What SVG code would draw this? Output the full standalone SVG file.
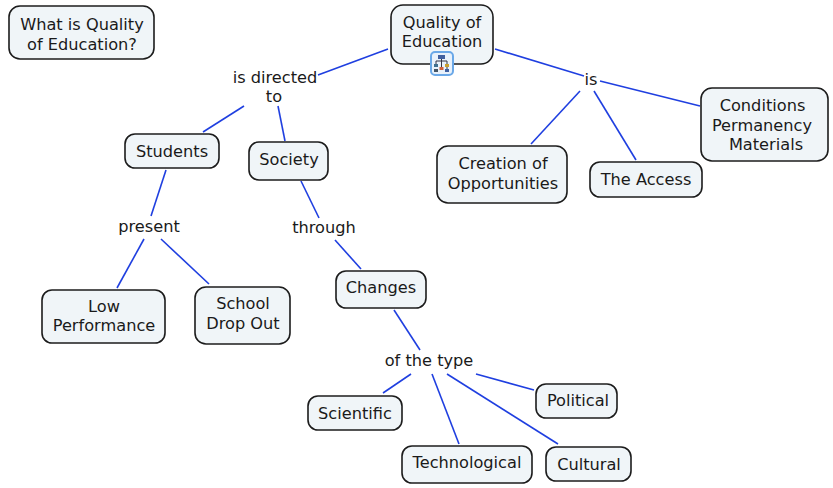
<svg xmlns="http://www.w3.org/2000/svg" width="833" height="488" viewBox="0 0 833 488">
<style>
.n{fill:#f0f5f8;stroke:#1c1c1c;stroke-width:1.6}
text{font-family:"DejaVu Sans",Verdana,sans-serif;font-size:16.2px;fill:#1a1a1a;text-anchor:middle}
.c line{stroke:#1f3fe0;stroke-width:1.6}
</style>
<rect width="833" height="488" fill="#fff"/>
<g id="connectors" class="c">
<line x1="388" y1="49" x2="318" y2="75"/>
<line x1="495" y1="49" x2="584" y2="76"/>
<line x1="600" y1="81" x2="700" y2="106"/>
<line x1="580" y1="91" x2="531" y2="144"/>
<line x1="594" y1="91" x2="636" y2="160"/>
<line x1="244" y1="106" x2="203" y2="132"/>
<line x1="278" y1="106" x2="285" y2="141"/>
<line x1="166" y1="170" x2="151" y2="216"/>
<line x1="144" y1="239" x2="117" y2="288"/>
<line x1="161" y1="239" x2="209" y2="284"/>
<line x1="301" y1="181" x2="319" y2="218"/>
<line x1="335" y1="240" x2="361" y2="269"/>
<line x1="394" y1="310" x2="420" y2="350"/>
<line x1="411" y1="374" x2="383" y2="393"/>
<line x1="432" y1="374" x2="459" y2="444"/>
<line x1="447" y1="374" x2="558" y2="444"/>
<line x1="476" y1="374" x2="534" y2="390"/>
</g>
<g id="title"><rect class="n" x="9" y="6" width="145" height="53" rx="11"/><text x="82" y="30">What is Quality</text><text x="82" y="50">of Education?</text></g>
<g id="quality"><rect class="n" x="391" y="5" width="102" height="59" rx="12"/><text x="442" y="28">Quality of</text><text x="442" y="47">Education</text>
<rect x="431" y="52" width="22" height="23" rx="4" fill="#e8f1fb" stroke="#6aa8e8" stroke-width="2"/>
<path d="M441.500 58v3M436 65v-4h11v4M441.500 61v6M447 67v3" fill="none" stroke="#334" stroke-width="1"/>
<rect x="438" y="55" width="7" height="4" fill="#3f5f9f"/><rect x="434" y="64" width="4" height="3" fill="#3f6f8f"/><rect x="445" y="64" width="4" height="3" fill="#c9a030"/><rect x="439.500" y="67" width="4" height="3" fill="#d0603a"/><rect x="445" y="69" width="4" height="3" fill="#3f5f9f"/><rect x="434" y="69" width="4" height="3" fill="#456"/></g>
<g id="students"><rect class="n" x="125" y="134" width="94" height="34" rx="10"/><text x="172" y="157">Students</text></g>
<g id="society"><rect class="n" x="249" y="142" width="79" height="38" rx="10"/><text x="289" y="165">Society</text></g>
<g id="opportunities"><rect class="n" x="437" y="146" width="130" height="57" rx="11"/><text x="503" y="169">Creation of</text><text x="503" y="189">Opportunities</text></g>
<g id="access"><rect class="n" x="590" y="162" width="112" height="35" rx="10"/><text x="646" y="185">The Access</text></g>
<g id="conditions"><rect class="n" x="701" y="88" width="127" height="73" rx="11"/><text x="762.500" y="111">Conditions</text><text x="762" y="131">Permanency</text><text x="766" y="150">Materials</text></g>
<g id="low"><rect class="n" x="42" y="290" width="123" height="53" rx="10"/><text x="104" y="312">Low</text><text x="104" y="331">Performance</text></g>
<g id="dropout"><rect class="n" x="195" y="287" width="95" height="57" rx="11"/><text x="243" y="309">School</text><text x="243" y="329">Drop Out</text></g>
<g id="changes"><rect class="n" x="336" y="271" width="90" height="37" rx="10"/><text x="381" y="293">Changes</text></g>
<g id="scientific"><rect class="n" x="308" y="396" width="94" height="34" rx="10"/><text x="355" y="419">Scientific</text></g>
<g id="technological"><rect class="n" x="402" y="446" width="130" height="37" rx="10"/><text x="467" y="468">Technological</text></g>
<g id="cultural"><rect class="n" x="546" y="447" width="85" height="34" rx="10"/><text x="589" y="470">Cultural</text></g>
<g id="political"><rect class="n" x="536" y="384" width="81" height="34" rx="10"/><text x="578" y="406">Political</text></g>
<g id="labels"><text x="275" y="83">is directed</text><text x="274" y="102">to</text><text x="591" y="85">is</text><text x="149" y="232">present</text><text x="324" y="233">through</text><text x="429" y="366">of the type</text></g>
</svg>
